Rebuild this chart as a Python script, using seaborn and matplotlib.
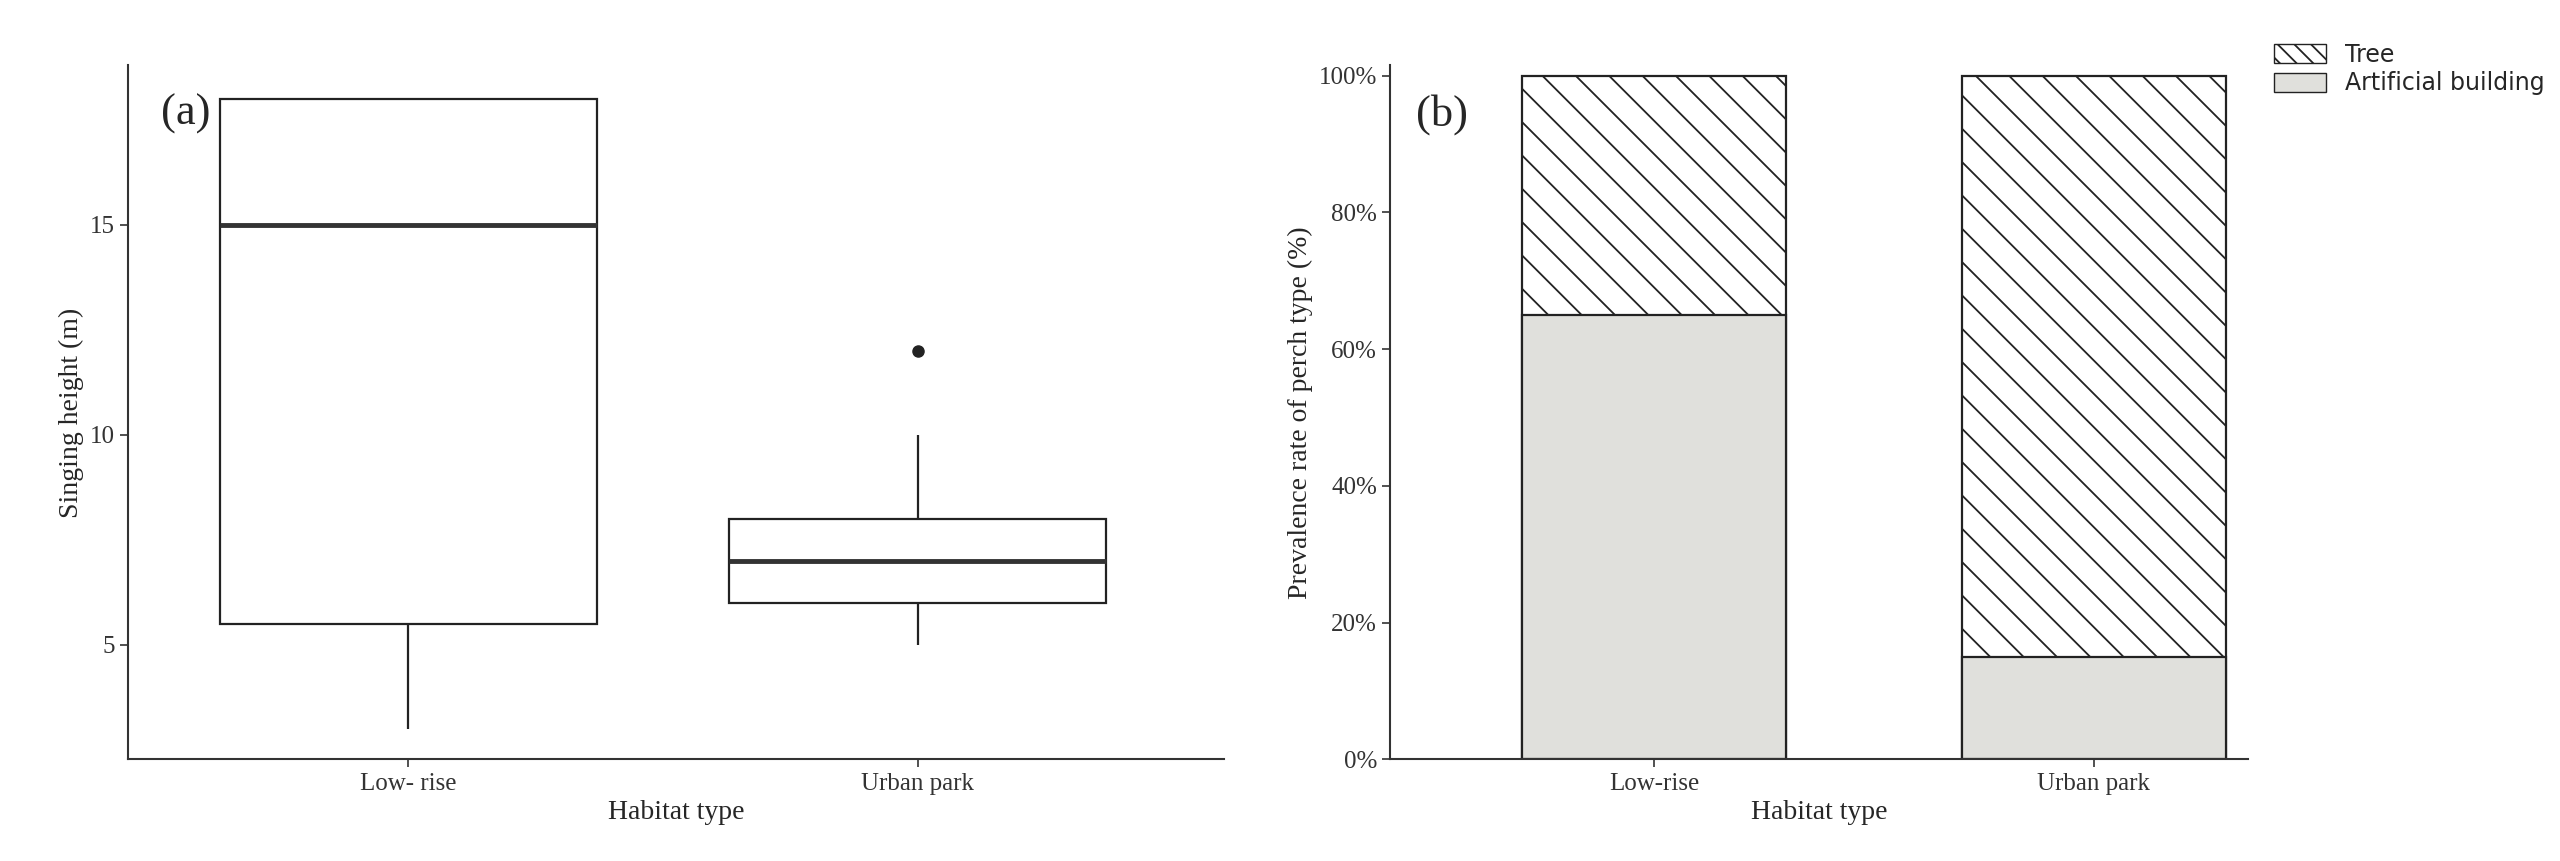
import numpy as np
import pandas as pd
import matplotlib
matplotlib.use('Agg')
import matplotlib.pyplot as plt
import matplotlib.patches as mpatches
import seaborn as sns

sns.set_theme(style='ticks')
plt.rcParams['font.family'] = ['Liberation Serif', 'DejaVu Serif']
plt.rcParams['hatch.linewidth'] = 1.3

# panel (a) raw heights, chosen to give the drawn box stats
low_rise_heights = [3, 5.5, 15, 18, 18]
urban_park_heights = [5, 6, 6, 7, 7, 8, 8, 10, 12]
habitats_a = ['Low- rise', 'Urban park']

# panel (b) perch type shares (%)
habitats_b = ['Low-rise', 'Urban park']
artificial_pct = [65, 15]
tree_pct = [35, 85]

df_a = pd.DataFrame({
    'habitat': [habitats_a[0]] * len(low_rise_heights) + [habitats_a[1]] * len(urban_park_heights),
    'height': low_rise_heights + urban_park_heights,
})
df_b = pd.DataFrame({'habitat': habitats_b, 'artificial': artificial_pct,
                     'total': np.array(artificial_pct) + np.array(tree_pct)})

fig = plt.figure(figsize=(25.6, 8.61), dpi=100)
ax1 = fig.add_axes([0.05, 0.118, 0.428, 0.806])
ax2 = fig.add_axes([0.543, 0.118, 0.335, 0.806])

sns.boxplot(data=df_a, x='habitat', y='height', ax=ax1, width=0.74, color='white',
            linecolor='#222222', linewidth=1.6,
            medianprops=dict(linewidth=3.5, color='#333333'),
            flierprops=dict(marker='o', markerfacecolor='#222222', markeredgecolor='#222222', markersize=8),
            showcaps=False)
ax1.set_xlim(-0.55, 1.6)
ax1.set_ylim(2.27, 18.8)
ax1.set_yticks([5, 10, 15])
ax1.set_xlabel('Habitat type', fontsize=20)
ax1.set_ylabel('Singing height (m)', fontsize=20)
ax1.text(0.03, 0.93, '(a)', transform=ax1.transAxes, fontsize=32, va='center')
sns.despine(ax=ax1)

sns.barplot(data=df_b, x='habitat', y='total', ax=ax2, width=0.6, color='white',
            edgecolor='#222222', linewidth=1.6, hatch='\\', saturation=1)
sns.barplot(data=df_b, x='habitat', y='artificial', ax=ax2, width=0.6, color='#e0e0dc',
            edgecolor='#222222', linewidth=1.6, saturation=1)
ax2.set_xlim(-0.6, 1.35)
ax2.set_ylim(0, 101.5)
ax2.set_yticks([0, 20, 40, 60, 80, 100])
ax2.set_yticklabels([f'{v}%' for v in [0, 20, 40, 60, 80, 100]])
ax2.set_xlabel('Habitat type', fontsize=20)
ax2.set_ylabel('Prevalence rate of perch type (%)', fontsize=20)
ax2.text(0.03, 0.93, '(b)', transform=ax2.transAxes, fontsize=32, va='center')
sns.despine(ax=ax2)

for ax in (ax1, ax2):
    ax.tick_params(labelsize=18, length=6, width=1.2, colors='#333333')
    for s in ax.spines.values():
        s.set_linewidth(1.5)
        s.set_color('#333333')

handles = [mpatches.Patch(facecolor='white', edgecolor='#222222', hatch='\\\\', label='Tree'),
           mpatches.Patch(facecolor='#e0e0dc', edgecolor='#222222', label='Artificial building')]
fig.legend(handles=handles, loc='upper left', bbox_to_anchor=(0.88, 0.975), frameon=False,
           prop={'family': 'DejaVu Sans', 'size': 17}, handlelength=2.2, handleheight=0.9,
           labelspacing=0.2)

fig.savefig('out.png', dpi=100)
